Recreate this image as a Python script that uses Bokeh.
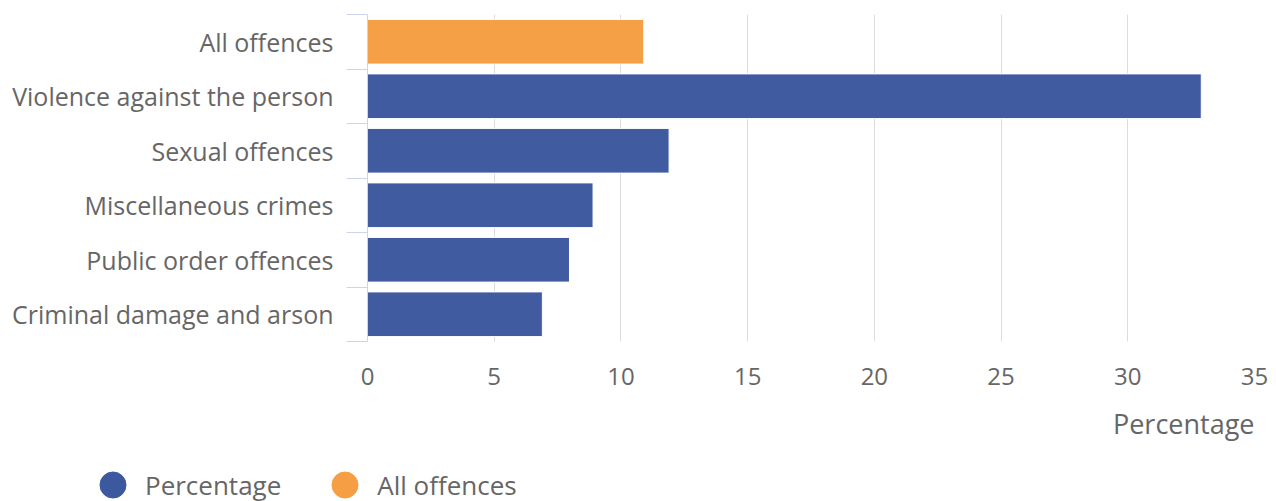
from bokeh.plotting import figure
from bokeh.layouts import column
from bokeh.models import Range1d, FixedTicker, Legend, LegendItem, Title, ColumnDataSource
from bokeh.embed import file_html
from bokeh.resources import INLINE

categories = ["All offences", "Violence against the person", "Sexual offences",
              "Miscellaneous crimes", "Public order offences", "Criminal damage and arson"]
values = [10.9, 32.9, 11.9, 8.9, 7.97, 6.9]
x_ticks = [0, 5, 10, 15, 20, 25, 30, 35]
series_names = ["Percentage", "All offences"]
BLUE = "#3c589e"
ORANGE = "#f59e43"
FONT = "Open Sans"
TXT = "#666666"

n = len(categories)
ypos = [n - i - 0.5 for i in range(n)]

p = figure(width=1276, height=461, output_backend="svg", toolbar_location=None,
           x_range=Range1d(0, 35), y_range=Range1d(0, n))
p.min_border_left = 367
p.min_border_right = 22
p.min_border_top = 14
p.min_border_bottom = 120
p.outline_line_color = None
p.background_fill_color = "white"
p.border_fill_color = "white"

src_all = ColumnDataSource(dict(y=ypos[:1], v=values[:1]))
src_rest = ColumnDataSource(dict(y=ypos[1:], v=values[1:]))
p.hbar(y="y", right="v", left=0, height=0.82, source=src_all,
       fill_color=ORANGE, fill_alpha=0.98, line_color="white", line_width=1)
p.hbar(y="y", right="v", left=0, height=0.82, source=src_rest,
       fill_color=BLUE, fill_alpha=0.98, line_color="white", line_width=1)

# grids
p.ygrid.visible = False
p.xgrid.grid_line_color = "#dcdcdc"
p.xgrid.grid_line_width = 1
p.xgrid.ticker = FixedTicker(ticks=x_ticks)

# x axis
xa = p.xaxis[0]
xa.ticker = FixedTicker(ticks=x_ticks)
xa.axis_line_color = None
xa.major_tick_line_color = None
xa.minor_tick_line_color = None
xa.major_tick_out = 0
xa.minor_tick_out = 0
xa.major_label_standoff = 26
xa.major_label_text_font = FONT
xa.major_label_text_font_size = "24px"
xa.major_label_text_color = TXT

# y axis
ya = p.yaxis[0]
ya.ticker = FixedTicker(ticks=ypos, minor_ticks=list(range(n + 1)))
ya.major_label_overrides = {y: c for y, c in zip(ypos, categories)}
ya.axis_line_color = "#ccd6eb"
ya.axis_line_width = 1
ya.major_tick_line_color = None
ya.major_tick_out = 0
ya.major_tick_in = 0
ya.minor_tick_line_color = "#ccd6eb"
ya.minor_tick_line_width = 1
ya.minor_tick_out = 21
ya.minor_tick_in = 0
ya.major_label_standoff = 13
ya.major_label_text_font = FONT
ya.major_label_text_font_size = "25px"
ya.major_label_text_color = TXT

# axis title (right-aligned under the x axis)
p.add_layout(Title(text="Percentage", align="right", text_font=FONT,
                   text_font_size="27px", text_font_style="normal",
                   text_color=TXT, standoff=31, offset=0), "below")

# legend figure (full-width frame, not aligned to the chart frame)
lf = figure(width=1276, height=40, output_backend="svg", toolbar_location=None,
            x_range=Range1d(0, 1), y_range=Range1d(0, 1))
lf.min_border = 0
if "frame_align" in lf.properties():
    lf.frame_align = False
lf.axis.visible = False
lf.grid.visible = False
lf.outline_line_color = None
r1 = lf.scatter(x=[-1], y=[-1], marker="circle", size=26, fill_color=BLUE, line_color=BLUE)
r2 = lf.scatter(x=[-1], y=[-1], marker="circle", size=26, fill_color=ORANGE, line_color=ORANGE)
legend = Legend(items=[LegendItem(label=series_names[0], renderers=[r1]),
                       LegendItem(label=series_names[1], renderers=[r2])],
                orientation="horizontal", location=(80, -16),
                glyph_width=65, glyph_height=65, label_standoff=0, spacing=31,
                padding=0, margin=0, border_line_color=None, background_fill_alpha=0,
                label_text_font=FONT, label_text_font_size="26px", label_text_color=TXT)
lf.add_layout(legend)

layout = column(p, lf, spacing=0)
open("out.html", "w").write(file_html(layout, INLINE))
